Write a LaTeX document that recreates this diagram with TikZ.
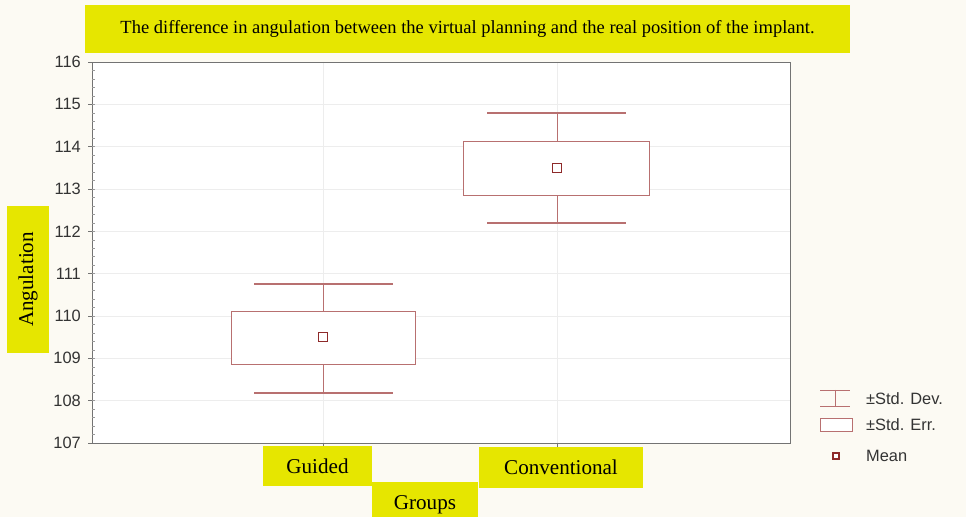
\documentclass[tikz,border=0pt]{standalone}
\usepackage{fontspec}
\setmainfont{Liberation Serif}
\newfontfamily\chartfont{Liberation Sans}
\usetikzlibrary{positioning}
\definecolor{hilite}{HTML}{E6E600}
\definecolor{paper}{HTML}{FCFAF3}
\definecolor{boxred}{HTML}{B87070}
\definecolor{meanred}{HTML}{8E2A2A}
\definecolor{gridgray}{HTML}{EDEDED}

\begin{document}
\begin{tikzpicture}[x=0.03cm,y=-0.03cm]
        \tikzstyle{tag} = [fill=hilite, inner sep=0pt, font=\fontsize{15.8}{17}\selectfont]
        \tikzstyle{ticklab} = [anchor=east, font=\chartfont\fontsize{14}{15}\selectfont, text=black!80]
        \tikzstyle{legtext} = [anchor=west, font=\chartfont\fontsize{14}{15}\selectfont, text=black!80]
        \tikzstyle{sd} = [boxred, line width=0.9pt]
        \tikzstyle{se} = [boxred, line width=0.6pt, fill=white]
        \tikzstyle{mean} = [meanred, line width=1.2pt, fill=white]
        \fill[paper] (0,0) rectangle (966,517);
        \useasboundingbox (0,0) rectangle (966,517);
        % plot area
        \fill[white] (92,62) rectangle (790,443);
        \foreach \v in {108,...,115}
          \draw[gridgray] (92,{62+(116-\v)*42.33})--(790,{62+(116-\v)*42.33});
        \draw[gridgray] (323,62)--(323,443);
        \draw[gridgray] (557,62)--(557,443);
        \draw[black!55, line width=0.8pt] (92,62) rectangle (790,443);
        \foreach \v in {107,...,116} {
          \draw[black!55] (88,{62+(116-\v)*42.33})--(95,{62+(116-\v)*42.33});
          \node[ticklab] (y\v) at (85,{62+(116-\v)*42.33}) {\v};
        }
        \foreach \m in {1,...,44}
          \draw[black!40] (92,{62+\m*42.33/5})--(95,{62+\m*42.33/5});
        \draw[black!55] (323,443)--(323,447);
        \draw[black!55] (557,443)--(557,447);
        % Guided
        \draw[sd] (254,284)--(393,284);
        \draw[sd] (254,393)--(393,393);
        \draw[boxred] (323,284)--(323,393);
        \draw[se] (231,311) rectangle (415,364);
        \draw[mean] (318.5,332.5) rectangle (327.5,341.5);
        % Conventional
        \draw[sd] (487,113)--(626,113);
        \draw[sd] (487,223)--(626,223);
        \draw[boxred] (557,113)--(557,223);
        \draw[se] (463,141) rectangle (649,195);
        \draw[mean] (552.5,163.5) rectangle (561.5,172.5);
        % legend
        \draw[boxred] (820,390)--(850,390);
        \draw[boxred] (820,406)--(850,406);
        \draw[boxred] (835,390)--(835,406);
        \draw[se] (820,418) rectangle (852,431);
        \draw[mean] (833,453) rectangle (839,459);
        \node[legtext] (ldev) at (862,399) {±Std. Dev.};
        \node[legtext] (lerr) at (862,425) {±Std. Err.};
        \node[legtext] (lmean) at (862,456) {Mean};
        % yellow labels
        \node[tag, minimum width=22.95cm, minimum height=1.44cm] (title) at (467.5,29)
          {The difference in angulation between the virtual planning and the real position of the implant.};
        \node[tag, rotate=90, minimum width=4.41cm, minimum height=1.26cm, font=\fontsize{18}{20}\selectfont] (ylab) at (28,279.5) {Angulation};
        \node[tag, minimum width=3.27cm, minimum height=1.2cm, font=\fontsize{18}{20}\selectfont] (guided) at (317.5,466) {Guided};
        \node[tag, minimum width=4.92cm, minimum height=1.23cm, font=\fontsize{18}{20}\selectfont] (conv) at (561,467.5) {Conventional};
        \node[tag, minimum width=3.18cm, minimum height=1.38cm, font=\fontsize{18}{20}\selectfont] (groups) at (425,505) {Groups};
\end{tikzpicture}
\end{document}
